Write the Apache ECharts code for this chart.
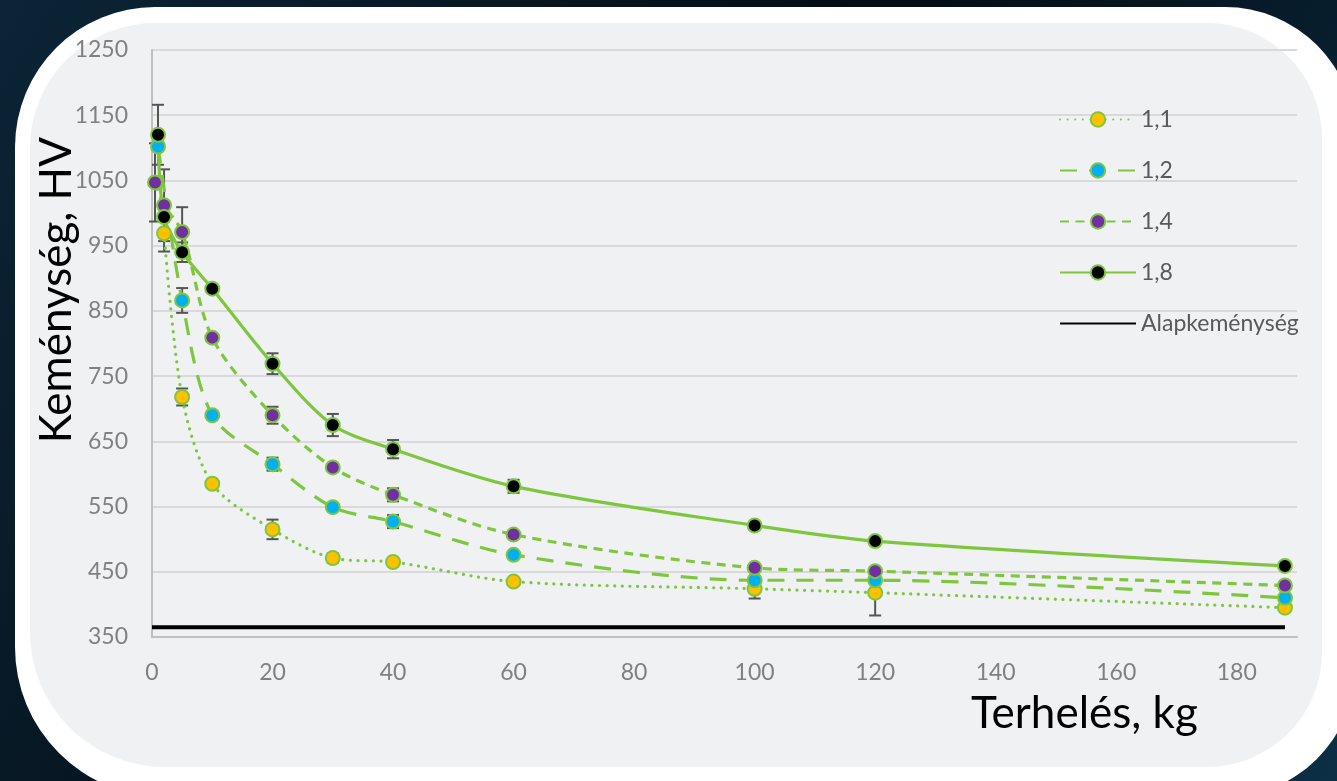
<!DOCTYPE html>
<html>
<head>
<meta charset="utf-8">
<script src="https://cdn.jsdelivr.net/npm/echarts@6/dist/echarts.min.js"></script>
<style>
html,body{margin:0;padding:0;background:#050d16;}
#chart{width:1337px;height:781px;}
</style>
</head>
<body>
<div id="chart"></div>
<script>
// ---- data ----
const seriesNames = ['1,1', '1,2', '1,4', '1,8'];
const baseName = 'Alapkeménység';
const loads11 = [2, 5, 10, 20, 30, 40, 60, 100, 120, 188];
const hv11    = [969, 718, 585, 515, 471, 465, 435, 424, 418, 395];
const err11   = [28, 13, 0, 15, 7, 0, 0, 15, 35, 0];
const loads12 = [1, 5, 10, 20, 30, 40, 60, 100, 120, 188];
const hv12    = [1102, 866, 690, 615, 549, 527, 476, 437, 437, 410];
const err12   = [0, 19, 0, 10, 0, 10, 0, 0, 0, 0];
const loads14 = [0.5, 2, 5, 10, 20, 30, 40, 60, 100, 120, 188];
const hv14    = [1047, 1012, 971, 809, 690, 610, 568, 507, 456, 451, 429];
const err14   = [60, 55, 38, 0, 13, 0, 10, 0, 0, 0, 0];
const loads18 = [1, 2, 5, 10, 20, 30, 40, 60, 100, 120, 188];
const hv18    = [1120, 994, 940, 884, 769, 675, 638, 581, 521, 497, 459];
const err18   = [46, 0, 15, 0, 16, 17, 14, 10, 0, 0, 0];
const baseLoads = [0, 188];
const baseHV    = [365, 365];
const yTicks = { min: 350, max: 1250, step: 100 };
const xTicks = { min: 0, max: 190, step: 20 };

// ---- styles ----
const green = '#7fc63f';
const fills = ['#ffc000', '#00b0f0', '#7030a0', '#000000'];
const dashes = [[0.1, 7.5], [17, 12], [9, 6.5], 'solid'];
const FONT = 'Lato';

const loads = [loads11, loads12, loads14, loads18];
const hvs = [hv11, hv12, hv14, hv18];
const errs = [err11, err12, err14, err18];

const pair = (xs, ys) => xs.map((x, i) => [x, ys[i]]);

const errData = [];
loads.forEach((xs, s) => xs.forEach((x, i) => {
  if (errs[s][i] > 0) errData.push([x, hvs[s][i] - errs[s][i], hvs[s][i] + errs[s][i]]);
}));

const lineSeries = seriesNames.map((name, s) => ({
  name: name,
  type: 'line',
  data: pair(loads[s], hvs[s]),
  smooth: 0.3,
  symbol: 'circle',
  symbolSize: 14,
  showAllSymbol: true,
  z: 3,
  lineStyle: { color: green, width: 3.2, type: dashes[s], cap: s === 0 ? 'round' : 'butt' },
  itemStyle: { color: fills[s], borderColor: green, borderWidth: 2 },
  emphasis: { disabled: true },
  animation: false
}));

const chart = echarts.init(document.getElementById('chart'), null, { renderer: 'canvas' });
chart.setOption({
  animation: false,
  backgroundColor: {
    type: 'linear', x: 0, y: 0, x2: 1, y2: 1,
    colorStops: [{ offset: 0, color: '#0b2536' }, { offset: 0.5, color: '#040c15' }, { offset: 1, color: '#0b2f45' }]
  },
  graphic: [
    { type: 'rect', z: -10, silent: true, shape: { x: 15, y: 7, width: 1340, height: 790, r: [140, 130, 130, 150] }, style: { fill: '#ffffff' } },
    { type: 'rect', z: -9, silent: true, shape: { x: 30, y: 23, width: 1292, height: 744, r: [125, 115, 115, 135] }, style: { fill: '#f0f1f2' } },
    { type: 'text', z: 10, silent: true, left: 35, top: 137, rotation: Math.PI / 2,
      style: { text: 'Keménység, HV', font: '400 44px ' + FONT, fill: '#000000' } },
    { type: 'text', z: 10, silent: true, left: 971, top: 692,
      style: { text: 'Terhelés, kg', font: '400 44px ' + FONT, fill: '#000000' } }
  ],
  grid: { left: 152, right: 40, top: 50, bottom: 144, containLabel: false },
  legend: {
    orient: 'vertical',
    left: 1054,
    top: 103,
    itemWidth: 76,
    itemHeight: 18,
    itemGap: 28,
    data: seriesNames.concat([{ name: baseName, itemStyle: { opacity: 0 } }]),
    textStyle: { fontFamily: FONT, fontSize: 23, color: '#595959' },
    selectedMode: false
  },
  xAxis: {
    type: 'value',
    min: xTicks.min, max: xTicks.max, interval: xTicks.step,
    axisLine: { show: true, lineStyle: { color: '#bfbfbf', width: 2 } },
    axisTick: { show: false },
    splitLine: { show: false },
    axisLabel: { showMaxLabel: false, margin: 24, color: '#808080', fontFamily: FONT, fontSize: 23,
      formatter: v => String(v) }
  },
  yAxis: {
    type: 'value',
    min: yTicks.min, max: yTicks.max, interval: yTicks.step,
    axisLine: { show: true, lineStyle: { color: '#bfbfbf', width: 2 } },
    axisTick: { show: false },
    splitLine: { show: true, lineStyle: { color: '#d9d9d9', width: 2 } },
    axisLabel: { margin: 24, color: '#808080', fontFamily: FONT, fontSize: 23,
      formatter: v => String(v) }
  },
  series: [
    {
      name: baseName,
      type: 'line',
      data: pair(baseLoads, baseHV),
      symbol: 'none',
      z: 2,
      lineStyle: { color: '#000000', width: 4 },
      itemStyle: { color: '#000000' },
      emphasis: { disabled: true }
    },
    {
      name: 'errors',
      type: 'custom',
      z: 2,
      silent: true,
      data: errData,
      renderItem: function (params, api) {
        const x = api.value(0);
        const lo = api.coord([x, api.value(1)]);
        const hi = api.coord([x, api.value(2)]);
        const w = 6;
        const st = { stroke: '#555555', lineWidth: 2 };
        return {
          type: 'group',
          children: [
            { type: 'line', shape: { x1: lo[0], y1: lo[1], x2: hi[0], y2: hi[1] }, style: st },
            { type: 'line', shape: { x1: lo[0] - w, y1: lo[1], x2: lo[0] + w, y2: lo[1] }, style: st },
            { type: 'line', shape: { x1: hi[0] - w, y1: hi[1], x2: hi[0] + w, y2: hi[1] }, style: st }
          ]
        };
      }
    }
  ].concat(lineSeries)
});
</script>
</body>
</html>
